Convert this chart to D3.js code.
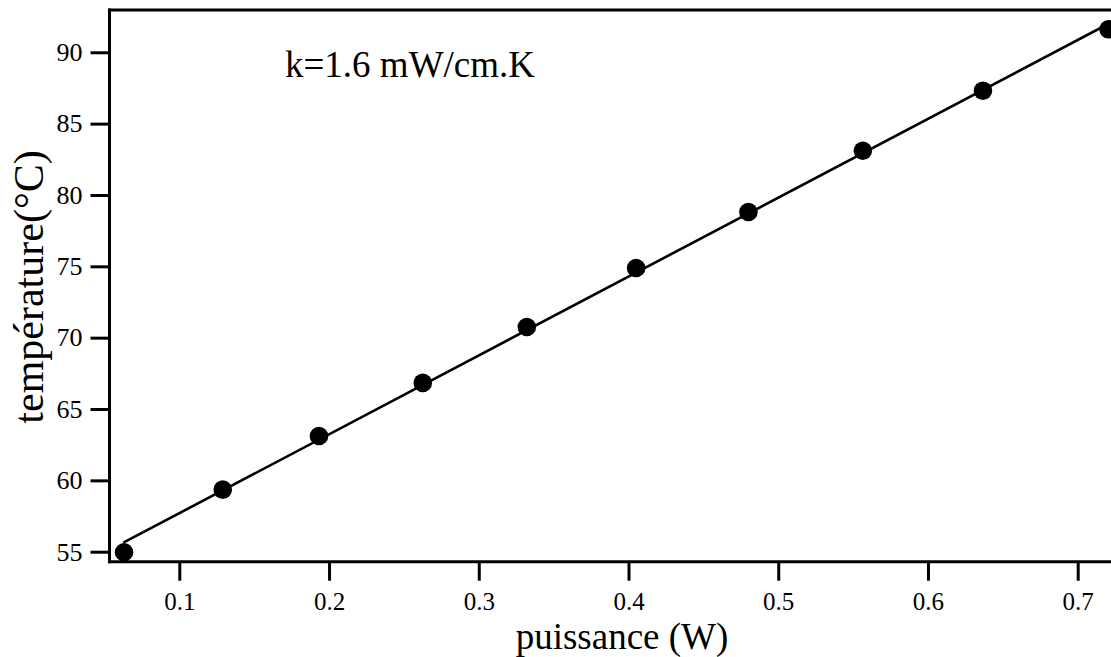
<!DOCTYPE html>
<html lang="fr">
<head>
    <meta charset="UTF-8">
    <title>temperature vs puissance</title>
    <style>
        body { margin: 0; background: #fff; }
        text { font-family: "Liberation Serif", "DejaVu Serif", serif; fill: #000; }
    </style>
</head>
<script src="https://d3js.org/d3.v7.min.js"></script>
<body>
<svg width="1111" height="657" class="chart"></svg>

<script>
    // measured points
    var puissance = [0.0631, 0.129, 0.1933, 0.2626, 0.3321, 0.4051, 0.4801, 0.5565, 0.6367, 0.7206];
    var temperature = [54.96, 59.35, 63.11, 66.83, 70.75, 74.88, 78.81, 83.10, 87.31, 91.61];
    // linear fit, two ends
    var fitP = [0.0626, 0.7222];
    var fitT = [55.63, 92.09];
    var xTicks = [0.1, 0.2, 0.3, 0.4, 0.5, 0.6, 0.7];
    var yTicks = [55, 60, 65, 70, 75, 80, 85, 90];

    var svg = d3.select("svg.chart"),
        mLeft = 109.5, mRight = 1111, mTop = 10, mBottom = 561.7;

    var xScale = d3.scaleLinear().domain([0.05338, 0.72224]).range([mLeft, mRight]),
        yScale = d3.scaleLinear().domain([54.299, 92.964]).range([mBottom, mTop]);

    // x axis
    var gx = svg.append("g")
        .attr("transform", "translate(0," + mBottom + ")")
        .call(d3.axisBottom(xScale).tickValues(xTicks).tickSizeInner(19).tickSizeOuter(0).tickPadding(12)
            .tickFormat(function (d) { return d3.format(".1f")(d); }));
    gx.select(".domain").attr("stroke-width", 3).attr("d", "M" + (mLeft - 1.5) + ",0H" + (mRight + 5));
    gx.selectAll(".tick line").attr("stroke-width", 3);
    gx.selectAll(".tick text").style("font-size", "25px");

    // y axis
    var gy = svg.append("g")
        .attr("transform", "translate(" + mLeft + ",0)")
        .call(d3.axisLeft(yScale).tickValues(yTicks).tickSizeInner(19).tickSizeOuter(0).tickPadding(8));
    gy.select(".domain").attr("stroke-width", 3).attr("d", "M0," + (mBottom + 1.5) + "V" + (mTop - 1.5));
    gy.selectAll(".tick line").attr("stroke-width", 3);
    gy.selectAll(".tick text").style("font-size", "26px");

    // top frame line
    svg.append("line")
        .attr("x1", mLeft - 1.5).attr("x2", mRight + 5)
        .attr("y1", mTop).attr("y2", mTop)
        .attr("stroke", "#000").attr("stroke-width", 3);

    // fit line
    var fit = fitP.map(function (p, i) { return [p, fitT[i]]; });
    svg.append("path")
        .datum(fit)
        .attr("fill", "none")
        .attr("stroke", "#000")
        .attr("stroke-width", 2.6)
        .attr("d", d3.line()
            .x(function (d) { return xScale(d[0]); })
            .y(function (d) { return yScale(d[1]); }));

    // points
    svg.selectAll(".pt")
        .data(puissance)
        .enter().append("circle")
        .attr("class", "pt")
        .attr("cx", function (d) { return xScale(d); })
        .attr("cy", function (d, i) { return yScale(temperature[i]); })
        .attr("r", 9.3)
        .attr("fill", "#000");

    // labels
    svg.append("text")
        .attr("x", 622)
        .attr("y", 649)
        .attr("text-anchor", "middle")
        .style("font-size", "37px")
        .text("puissance (W)");

    svg.append("text")
        .attr("transform", "translate(43,287) rotate(-90)")
        .attr("text-anchor", "middle")
        .style("font-size", "42px")
        .text("température(°C)");

    svg.append("text")
        .attr("x", 285)
        .attr("y", 77)
        .style("font-size", "37px")
        .text("k=1.6 mW/cm.K");
</script>
</body>
</html>
